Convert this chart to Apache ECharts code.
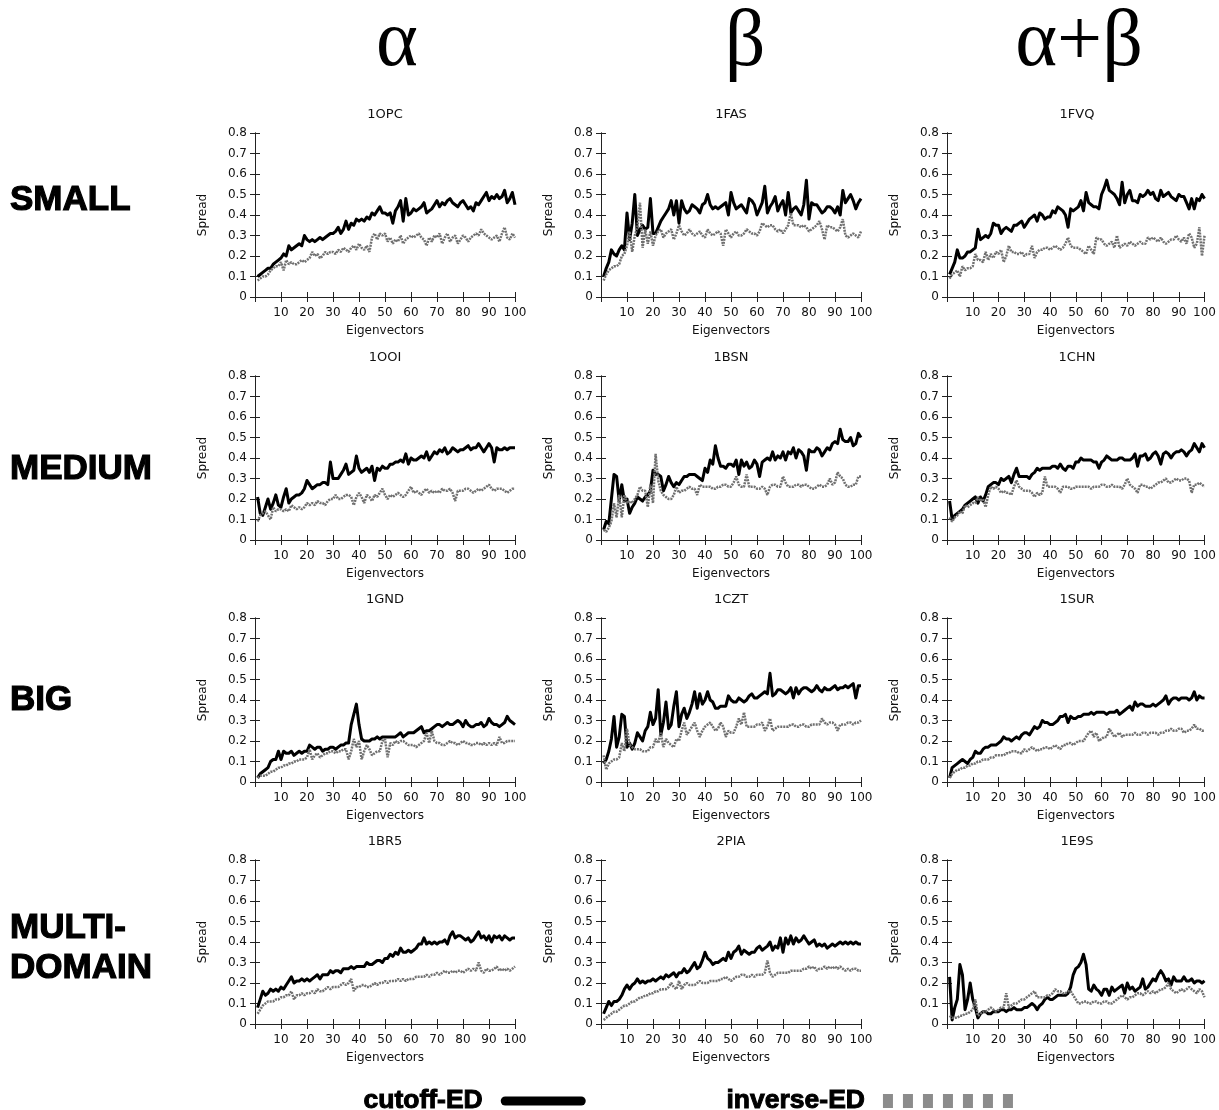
<!DOCTYPE html>
<html><head><meta charset="utf-8">
<script src="https://cdn.jsdelivr.net/npm/echarts@6/dist/echarts.min.js"></script>
<style>html,body{margin:0;padding:0;background:#fff}#c{width:1219px;height:1110px}</style>
</head><body><div id="c"></div>
<script>
const panelNames = ['1OPC','1FAS','1FVQ','1OOI','1BSN','1CHN','1GND','1CZT','1SUR','1BR5','2PIA','1E9S'];
const columnHeads = ['\u03b1','\u03b2','\u03b1+\u03b2'];
const rowHeads = ['SMALL','MEDIUM','BIG','MULTI-\nDOMAIN'];
const seriesNames = ['cutoff-ED','inverse-ED'];
const eigenIdx = Array.from({length:100},(_,i)=>i+1);

const cut_1OPC=[.10,.11,.12,.13,.14,.14,.16,.17,.18,.19,.21,.20,.25,.23,.24,.25,.26,.25,.30,.28,.27,.28,.27,.28,.29,.28,.29,.30,.31,.31,.32,.34,.31,.33,.37,.33,.36,.35,.38,.37,.38,.37,.39,.38,.41,.40,.42,.44,.41,.41,.40,.41,.36,.42,.44,.47,.37,.48,.40,.41,.43,.42,.43,.44,.46,.41,.42,.43,.45,.47,.44,.46,.45,.47,.48,.46,.45,.44,.46,.47,.45,.43,.44,.42,.46,.45,.47,.49,.51,.47,.49,.48,.50,.48,.49,.52,.46,.48,.51,.45];
const inv_1OPC=[.08,.09,.10,.10,.11,.13,.14,.15,.15,.17,.13,.18,.16,.17,.16,.16,.17,.18,.17,.18,.19,.22,.20,.21,.19,.20,.22,.21,.22,.22,.21,.23,.22,.24,.23,.22,.24,.25,.23,.26,.24,.23,.25,.22,.29,.31,.28,.31,.30,.31,.27,.29,.26,.28,.27,.30,.26,.28,.29,.30,.29,.30,.31,.29,.28,.25,.29,.27,.30,.29,.31,.26,.29,.31,.27,.29,.30,.26,.28,.30,.29,.27,.29,.30,.31,.30,.33,.31,.30,.29,.28,.29,.30,.27,.31,.34,.29,.28,.31,.29];
const cut_1FAS=[.10,.14,.17,.23,.21,.20,.23,.25,.23,.41,.28,.36,.50,.30,.33,.35,.33,.34,.48,.31,.31,.34,.37,.39,.41,.43,.47,.40,.47,.36,.47,.43,.41,.42,.45,.44,.43,.41,.45,.46,.50,.45,.43,.44,.43,.44,.45,.46,.40,.51,.46,.43,.44,.45,.43,.41,.48,.47,.45,.40,.43,.46,.54,.41,.44,.46,.49,.42,.45,.47,.40,.51,.41,.43,.44,.42,.40,.45,.57,.38,.46,.45,.45,.43,.41,.42,.44,.44,.43,.41,.44,.40,.52,.46,.48,.50,.47,.43,.46,.48];
const inv_1FAS=[.08,.11,.13,.14,.15,.15,.16,.20,.21,.25,.32,.22,.30,.34,.46,.24,.33,.26,.32,.25,.30,.32,.33,.29,.31,.32,.33,.28,.31,.35,.32,.30,.31,.33,.31,.30,.31,.32,.30,.29,.33,.31,.30,.31,.32,.31,.25,.33,.31,.29,.31,.32,.30,.30,.31,.33,.32,.31,.31,.30,.32,.36,.35,.34,.35,.35,.33,.32,.33,.31,.33,.35,.41,.35,.35,.35,.34,.35,.34,.32,.33,.34,.35,.37,.33,.28,.35,.34,.34,.33,.32,.34,.38,.30,.29,.30,.31,.30,.29,.32];
const cut_1FVQ=[.11,.14,.17,.23,.19,.19,.20,.22,.22,.23,.24,.33,.28,.29,.30,.29,.31,.36,.35,.35,.31,.33,.34,.33,.32,.35,.35,.36,.37,.34,.36,.38,.39,.40,.37,.41,.40,.38,.39,.39,.42,.41,.44,.43,.42,.40,.34,.43,.42,.43,.44,.47,.42,.51,.46,.45,.44,.44,.43,.50,.53,.57,.52,.51,.50,.48,.45,.56,.46,.50,.52,.47,.47,.46,.50,.49,.50,.52,.50,.51,.48,.47,.52,.49,.50,.51,.49,.48,.47,.50,.49,.49,.46,.43,.48,.43,.48,.47,.50,.48];
const inv_1FVQ=[.09,.11,.12,.13,.10,.15,.13,.14,.14,.15,.21,.18,.18,.17,.22,.18,.21,.19,.22,.21,.23,.17,.20,.25,.22,.22,.21,.21,.22,.20,.21,.21,.25,.19,.22,.23,.23,.24,.24,.23,.24,.25,.24,.23,.24,.26,.29,.25,.24,.24,.24,.23,.22,.21,.25,.23,.21,.29,.28,.28,.26,.25,.26,.27,.24,.30,.24,.25,.26,.25,.27,.26,.25,.26,.27,.26,.26,.29,.28,.29,.28,.27,.29,.27,.26,.27,.28,.28,.30,.28,.27,.29,.26,.31,.29,.24,.26,.34,.20,.30];
const cut_1OOI=[.21,.13,.12,.16,.20,.15,.18,.22,.17,.16,.21,.25,.18,.20,.21,.22,.22,.23,.25,.29,.27,.25,.26,.27,.27,.28,.28,.27,.38,.30,.30,.30,.32,.34,.37,.32,.33,.34,.41,.35,.33,.34,.35,.33,.36,.29,.35,.34,.36,.35,.35,.37,.37,.38,.38,.39,.38,.42,.37,.40,.39,.39,.40,.41,.40,.43,.39,.41,.43,.42,.44,.43,.45,.42,.43,.45,.44,.43,.44,.44,.45,.46,.44,.45,.45,.47,.45,.43,.45,.47,.45,.38,.45,.44,.44,.45,.44,.45,.45,.45];
const inv_1OOI=[.09,.12,.13,.14,.12,.10,.16,.14,.15,.15,.14,.15,.14,.17,.16,.15,.16,.15,.16,.18,.17,.18,.17,.19,.18,.18,.17,.19,.20,.20,.22,.20,.20,.21,.22,.22,.21,.17,.21,.23,.21,.18,.22,.21,.19,.22,.21,.23,.25,.22,.20,.22,.21,.22,.23,.22,.21,.22,.24,.26,.23,.24,.23,.22,.24,.25,.23,.24,.23,.24,.23,.25,.24,.24,.25,.23,.19,.24,.24,.24,.25,.25,.24,.23,.24,.25,.24,.25,.26,.27,.25,.24,.25,.25,.25,.24,.23,.24,.25,.25];
const cut_1BSN=[.05,.09,.08,.20,.32,.31,.19,.27,.19,.20,.13,.16,.18,.21,.20,.19,.21,.22,.24,.34,.32,.32,.31,.24,.27,.31,.28,.26,.28,.27,.29,.31,.31,.32,.32,.32,.31,.30,.29,.35,.33,.39,.37,.46,.40,.36,.36,.35,.37,.37,.36,.39,.32,.39,.36,.38,.35,.36,.39,.37,.31,.38,.39,.40,.39,.43,.39,.41,.40,.43,.39,.43,.42,.45,.40,.44,.43,.41,.34,.44,.43,.43,.45,.44,.41,.43,.45,.44,.47,.48,.47,.54,.49,.48,.48,.50,.46,.47,.52,.50];
const inv_1BSN=[.05,.04,.06,.09,.18,.11,.22,.11,.22,.18,.19,.18,.20,.22,.26,.24,.24,.16,.27,.18,.42,.29,.24,.22,.21,.20,.20,.22,.26,.23,.24,.24,.25,.26,.25,.25,.22,.27,.26,.26,.26,.26,.25,.25,.26,.26,.27,.27,.26,.26,.28,.31,.27,.26,.26,.32,.26,.26,.26,.25,.25,.26,.25,.22,.26,.27,.27,.26,.26,.31,.28,.26,.26,.26,.27,.27,.26,.27,.27,.26,.25,.25,.26,.27,.26,.26,.27,.30,.27,.28,.33,.31,.30,.27,.26,.26,.27,.27,.31,.31];
const cut_1CHN=[.19,.10,.12,.13,.14,.15,.17,.18,.19,.20,.21,.18,.21,.19,.22,.26,.27,.28,.28,.27,.30,.29,.30,.31,.28,.32,.35,.31,.31,.31,.31,.30,.32,.33,.35,.34,.35,.35,.35,.35,.36,.36,.35,.37,.35,.34,.36,.36,.35,.38,.38,.40,.39,.39,.39,.39,.38,.38,.35,.38,.39,.41,.40,.39,.39,.39,.40,.40,.39,.39,.39,.40,.42,.36,.41,.41,.42,.39,.40,.42,.43,.41,.37,.42,.43,.42,.40,.42,.43,.43,.44,.43,.41,.43,.44,.47,.45,.43,.47,.45];
const inv_1CHN=[.11,.09,.11,.12,.14,.13,.17,.16,.17,.18,.18,.21,.19,.20,.16,.22,.26,.25,.26,.25,.23,.24,.23,.23,.22,.26,.29,.26,.25,.24,.24,.24,.23,.21,.23,.22,.23,.31,.26,.26,.26,.26,.25,.23,.26,.26,.26,.25,.25,.26,.26,.26,.26,.26,.26,.25,.26,.26,.26,.27,.27,.26,.26,.27,.26,.26,.26,.25,.27,.30,.27,.26,.25,.23,.27,.27,.26,.26,.25,.26,.27,.28,.28,.29,.30,.28,.28,.29,.30,.29,.29,.30,.30,.29,.23,.27,.27,.28,.27,.26];
const cut_1GND=[.02,.04,.05,.06,.07,.10,.11,.11,.15,.11,.15,.14,.14,.15,.13,.14,.15,.14,.15,.15,.18,.17,.16,.17,.17,.15,.16,.16,.17,.17,.16,.17,.18,.18,.19,.19,.28,.33,.38,.28,.21,.20,.20,.20,.21,.21,.22,.21,.22,.22,.22,.22,.22,.22,.23,.24,.22,.23,.24,.24,.24,.25,.26,.27,.24,.25,.25,.26,.27,.28,.28,.27,.28,.29,.28,.28,.29,.30,.29,.27,.30,.28,.27,.27,.28,.28,.29,.27,.28,.31,.29,.28,.28,.27,.28,.29,.32,.30,.29,.28];
const inv_1GND=[.02,.03,.03,.03,.04,.05,.05,.06,.07,.07,.08,.08,.09,.09,.10,.10,.11,.11,.11,.12,.16,.11,.13,.14,.12,.13,.14,.14,.15,.15,.14,.15,.15,.16,.16,.11,.15,.21,.17,.20,.11,.15,.18,.16,.13,.14,.15,.15,.20,.21,.12,.19,.18,.20,.19,.20,.20,.19,.18,.18,.18,.17,.18,.19,.20,.24,.19,.25,.20,.19,.19,.18,.18,.19,.20,.19,.19,.18,.19,.20,.19,.19,.18,.18,.19,.19,.18,.19,.18,.19,.18,.19,.18,.22,.19,.19,.20,.20,.20,.20];
const cut_1CZT=[.09,.11,.15,.21,.32,.17,.22,.33,.32,.17,.19,.16,.19,.24,.22,.20,.25,.27,.34,.28,.31,.45,.23,.29,.39,.26,.28,.37,.44,.27,.33,.36,.31,.34,.38,.44,.36,.43,.38,.40,.44,.40,.39,.36,.36,.37,.37,.37,.42,.40,.39,.39,.41,.40,.39,.40,.42,.43,.41,.41,.42,.43,.44,.43,.53,.42,.43,.45,.45,.44,.43,.44,.46,.41,.46,.43,.45,.46,.46,.45,.44,.45,.47,.45,.44,.46,.45,.45,.46,.47,.45,.46,.46,.47,.46,.47,.48,.41,.47,.47];
const inv_1CZT=[.13,.06,.09,.10,.11,.11,.12,.19,.15,.26,.18,.17,.16,.16,.16,.15,.15,.15,.17,.17,.21,.19,.24,.17,.21,.19,.18,.17,.21,.20,.25,.29,.23,.25,.27,.29,.25,.22,.25,.27,.28,.29,.27,.25,.26,.29,.27,.22,.25,.24,.24,.27,.31,.28,.34,.27,.27,.27,.27,.28,.28,.29,.25,.27,.31,.25,.26,.27,.27,.27,.27,.27,.28,.28,.27,.27,.28,.28,.27,.27,.28,.28,.28,.28,.31,.29,.28,.29,.29,.28,.25,.28,.28,.28,.29,.29,.28,.29,.29,.30];
const cut_1SUR=[.02,.07,.08,.09,.10,.11,.10,.09,.11,.12,.15,.14,.14,.16,.17,.17,.18,.18,.18,.19,.20,.22,.21,.21,.20,.21,.22,.21,.23,.24,.24,.23,.25,.27,.26,.27,.30,.29,.29,.28,.28,.29,.30,.32,.32,.33,.29,.32,.31,.31,.32,.32,.33,.33,.33,.34,.33,.34,.34,.34,.34,.33,.34,.34,.34,.35,.33,.34,.35,.36,.37,.35,.39,.37,.38,.38,.37,.37,.37,.38,.37,.38,.39,.40,.42,.38,.40,.41,.41,.40,.41,.41,.41,.40,.41,.44,.40,.42,.41,.41];
const inv_1SUR=[.02,.04,.05,.06,.06,.07,.07,.08,.08,.09,.09,.10,.10,.11,.11,.11,.12,.12,.13,.13,.13,.13,.14,.14,.15,.15,.15,.14,.14,.16,.15,.16,.17,.16,.15,.16,.16,.17,.17,.16,.17,.18,.17,.16,.18,.18,.19,.19,.18,.19,.20,.20,.20,.22,.24,.25,.22,.24,.20,.21,.22,.22,.26,.24,.22,.23,.24,.22,.23,.23,.23,.23,.24,.23,.23,.24,.24,.23,.24,.24,.24,.23,.24,.24,.25,.25,.26,.25,.25,.26,.26,.24,.25,.25,.26,.28,.26,.26,.25,.25];
const cut_1BR5=[.08,.12,.16,.14,.15,.17,.16,.17,.16,.18,.17,.19,.21,.23,.20,.21,.21,.22,.21,.22,.21,.22,.23,.24,.22,.24,.24,.24,.26,.25,.26,.26,.25,.27,.27,.27,.28,.27,.28,.28,.28,.28,.30,.29,.29,.30,.31,.31,.30,.32,.32,.34,.33,.35,.34,.37,.35,.35,.36,.35,.36,.37,.39,.39,.42,.39,.40,.39,.40,.39,.40,.40,.41,.39,.43,.45,.42,.43,.43,.42,.41,.42,.40,.41,.43,.45,.42,.43,.41,.43,.40,.43,.42,.43,.41,.43,.42,.41,.42,.42];
const inv_1BR5=[.05,.07,.09,.10,.11,.11,.11,.12,.12,.13,.13,.14,.14,.16,.12,.14,.14,.15,.14,.15,.15,.16,.15,.17,.16,.16,.17,.18,.17,.18,.18,.18,.19,.20,.19,.20,.22,.16,.18,.18,.19,.19,.18,.18,.19,.20,.19,.20,.20,.21,.20,.21,.21,.21,.22,.21,.22,.21,.22,.22,.22,.23,.23,.23,.23,.24,.23,.24,.24,.25,.24,.25,.26,.25,.25,.26,.25,.26,.26,.25,.26,.27,.26,.27,.26,.30,.26,.25,.27,.26,.26,.27,.28,.26,.27,.26,.27,.26,.27,.28];
const cut_2PIA=[.05,.08,.11,.09,.11,.11,.12,.14,.17,.19,.17,.19,.20,.22,.20,.21,.20,.21,.21,.22,.21,.22,.23,.22,.24,.23,.24,.25,.23,.25,.25,.27,.25,.26,.28,.30,.27,.28,.31,.35,.32,.31,.29,.30,.30,.31,.32,.31,.35,.32,.35,.36,.38,.34,.36,.35,.34,.35,.35,.37,.38,.36,.37,.38,.40,.36,.38,.37,.42,.35,.42,.39,.43,.39,.42,.40,.41,.43,.41,.39,.40,.41,.38,.39,.38,.39,.37,.38,.39,.38,.39,.40,.39,.40,.39,.40,.39,.40,.39,.39];
const inv_2PIA=[.02,.03,.04,.05,.06,.06,.07,.08,.09,.09,.10,.11,.11,.12,.13,.13,.14,.14,.15,.15,.16,.16,.17,.17,.17,.18,.20,.18,.17,.21,.17,.19,.20,.19,.19,.19,.20,.21,.20,.20,.20,.21,.21,.21,.21,.22,.22,.23,.22,.21,.22,.23,.23,.24,.24,.23,.23,.24,.23,.24,.24,.24,.25,.31,.25,.23,.24,.25,.25,.25,.25,.25,.26,.26,.26,.26,.26,.27,.27,.28,.27,.28,.26,.27,.27,.28,.27,.28,.27,.28,.27,.28,.27,.26,.27,.26,.27,.27,.26,.26];
const cut_1E9S=[.23,.02,.08,.12,.29,.24,.07,.12,.20,.12,.08,.03,.05,.06,.06,.05,.05,.06,.06,.06,.07,.07,.06,.07,.07,.08,.07,.07,.07,.08,.08,.09,.10,.09,.07,.09,.10,.12,.13,.12,.12,.13,.14,.14,.14,.14,.15,.18,.24,.27,.28,.30,.34,.29,.17,.16,.19,.17,.16,.14,.17,.17,.14,.18,.16,.17,.18,.19,.15,.20,.17,.18,.16,.17,.18,.22,.17,.18,.20,.22,.21,.24,.26,.24,.21,.22,.19,.23,.21,.21,.21,.23,.21,.21,.22,.20,.21,.21,.20,.21];
const inv_1E9S=[.04,.03,.03,.03,.04,.04,.05,.05,.06,.07,.12,.04,.05,.06,.06,.07,.08,.07,.06,.07,.08,.08,.15,.08,.09,.10,.10,.11,.12,.12,.13,.14,.15,.16,.13,.13,.13,.13,.14,.14,.15,.17,.16,.16,.15,.15,.16,.16,.14,.12,.10,.10,.11,.11,.10,.10,.11,.11,.10,.10,.11,.11,.10,.10,.11,.12,.13,.14,.13,.12,.13,.13,.14,.15,.15,.14,.15,.16,.15,.16,.15,.16,.17,.17,.18,.20,.17,.16,.15,.16,.17,.16,.17,.18,.17,.16,.15,.17,.16,.13];

const cutoffData=[cut_1OPC,cut_1FAS,cut_1FVQ,cut_1OOI,cut_1BSN,cut_1CHN,cut_1GND,cut_1CZT,cut_1SUR,cut_1BR5,cut_2PIA,cut_1E9S];
const inverseData=[inv_1OPC,inv_1FAS,inv_1FVQ,inv_1OOI,inv_1BSN,inv_1CHN,inv_1GND,inv_1CZT,inv_1SUR,inv_1BR5,inv_2PIA,inv_1E9S];

const colLeft=[255,601,947], rowTop=[133,376,618,860], gW=260, gH=164;
const tickFont={fontFamily:'DejaVu Sans',fontSize:12,color:'#111'};
const grid=[],xAxis=[],yAxis=[],series=[],title=[];

panelNames.forEach((nm,i)=>{
  const r=Math.floor(i/3), c=i%3;
  grid.push({left:colLeft[c],top:rowTop[r],width:gW,height:gH});
  const axLine={show:true,lineStyle:{color:'#222',width:1}};
  const tick={show:true,inside:true,length:5,lineStyle:{color:'#222',width:1}};
  xAxis.push({gridIndex:i,type:'value',min:0,max:100,interval:10,position:'bottom',
    axisLine:axLine,axisTick:tick,splitLine:{show:false},
    axisLabel:Object.assign({showMinLabel:false,margin:10},tickFont),
    name:'Eigenvectors',nameLocation:'middle',nameGap:28,nameTextStyle:tickFont});
  xAxis.push({gridIndex:i,type:'value',min:0,max:100,interval:10,position:'top',
    axisLine:axLine,axisTick:tick,splitLine:{show:false},axisLabel:{show:false}});
  yAxis.push({gridIndex:i,type:'value',min:0,max:0.8,interval:0.1,position:'left',
    axisLine:axLine,axisTick:tick,splitLine:{show:false},
    axisLabel:Object.assign({margin:8},tickFont),
    name:'Spread',nameLocation:'middle',nameGap:46,nameTextStyle:tickFont});
  yAxis.push({gridIndex:i,type:'value',min:0,max:0.8,interval:0.1,position:'right',
    axisLine:axLine,axisTick:tick,splitLine:{show:false},axisLabel:{show:false}});
  series.push({type:'line',name:seriesNames[0],xAxisIndex:2*i,yAxisIndex:2*i,
    data:eigenIdx.map((x,k)=>[x,cutoffData[i][k]]),symbol:'none',silent:true,
    lineStyle:{color:'#000',width:3,join:'round'},itemStyle:{color:'#000'}});
  series.push({type:'line',name:seriesNames[1],xAxisIndex:2*i,yAxisIndex:2*i,
    data:eigenIdx.map((x,k)=>[x,inverseData[i][k]]),symbol:'none',silent:true,
    lineStyle:{color:'#707070',width:2.5,type:[2,1]},itemStyle:{color:'#8c8c8c'}});
  title.push({text:nm,left:colLeft[c]+gW/2,top:rowTop[r]-25,textAlign:'center',padding:0,
    textStyle:{fontFamily:'DejaVu Sans',fontSize:13,fontWeight:'normal',color:'#111'}});
});

const headX=[397,745,1079];
columnHeads.forEach((t,c)=>title.push({text:t,left:headX[c],top:4,textAlign:'center',padding:0,
  textStyle:{fontFamily:'Liberation Serif',fontSize:80,fontWeight:'normal',color:'#000'}}));
const rowLabelTop=[180,449,680,908];
rowHeads.forEach((t,r)=>title.push({text:t,left:10,top:rowLabelTop[r],padding:0,
  textStyle:{fontFamily:'Liberation Sans',fontSize:35,fontWeight:'bold',color:'#000',lineHeight:40,
  textBorderColor:'#000',textBorderWidth:1.2}}));

const legTxt={fontFamily:'Liberation Sans',fontSize:26.5,fontWeight:'bold',color:'#000',
  textBorderColor:'#000',textBorderWidth:1,padding:[0,13,0,0]};
const legend=[
 {data:[seriesNames[0]],left:363,top:1087,padding:0,align:'right',selectedMode:false,
  itemWidth:85,itemHeight:9,icon:'path://M4.5,0H80.5A4.5,4.5 0 0 1 80.5,9H4.5A4.5,4.5 0 0 1 4.5,0Z',
  itemStyle:{color:'#000',borderWidth:0},lineStyle:{width:0},textStyle:legTxt},
 {data:[seriesNames[1]],left:726,top:1087,padding:0,align:'right',selectedMode:false,
  itemWidth:130,itemHeight:14,
  icon:'path://M0,0h10v14h-10zM20,0h10v14h-10zM40,0h10v14h-10zM60,0h10v14h-10zM80,0h10v14h-10zM100,0h10v14h-10zM120,0h10v14h-10z',
  itemStyle:{color:'#8c8c8c',borderWidth:0},lineStyle:{width:0},textStyle:legTxt}
];

const chart=echarts.init(document.getElementById('c'),null,{renderer:'canvas'});
chart.setOption({animation:false,backgroundColor:'#fff',title,grid,xAxis,yAxis,series,legend});
</script></body></html>
